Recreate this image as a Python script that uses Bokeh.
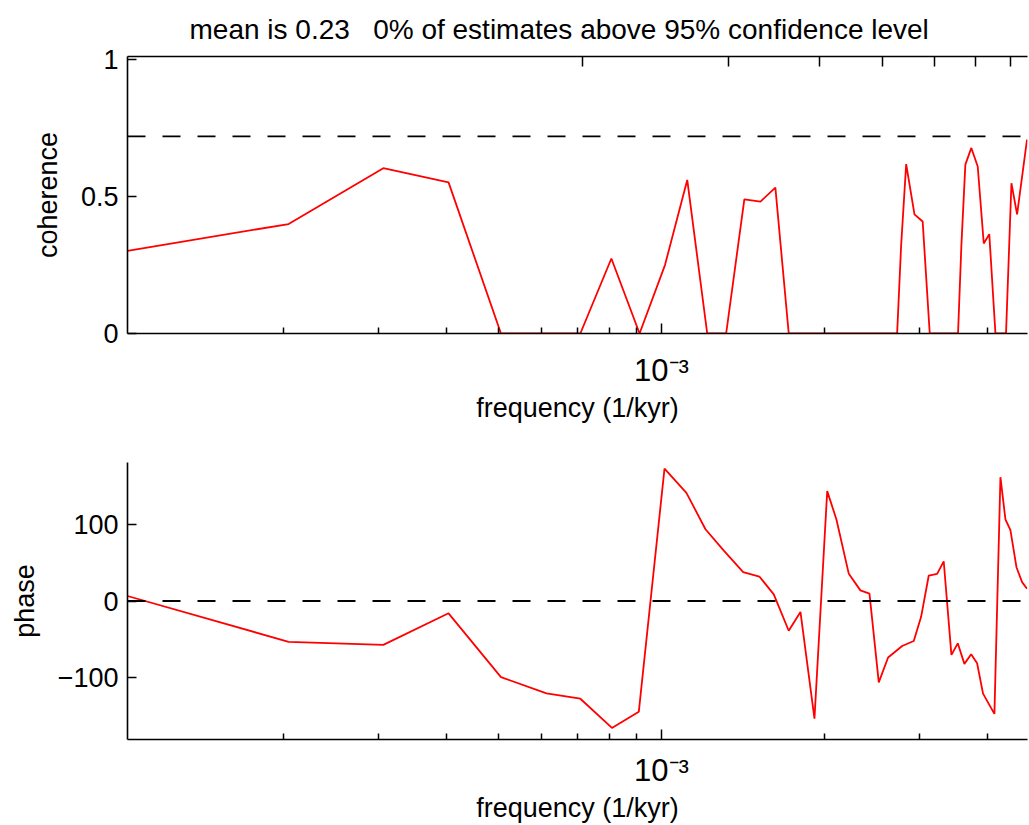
from bokeh.plotting import figure
from bokeh.layouts import column
from bokeh.models import Range1d, FixedTicker, LogAxis, Span
from bokeh.embed import file_html
from bokeh.resources import INLINE

# ---- data -------------------------------------------------------------
# non-breaking spaces keep the wide gap in the title
TITLE = "mean is 0.23\u00a0\u00a0\u00a00% of estimates above 95% confidence level"

# coherence estimate vs frequency (1/kyr)
coh_freq = [1.03e-4, 2.045e-4, 3.06e-4, 4.04e-4, 5.05e-4, 7.08e-4, 8.08e-4,
            9.11e-4, 1.015e-3, 1.116e-3, 1.215e-3, 1.317e-3, 1.423e-3,
            1.524e-3, 1.624e-3, 1.719e-3, 2.727e-3, 2.773e-3, 2.834e-3,
            2.936e-3, 3.04e-3, 3.133e-3, 3.534e-3, 3.585e-3, 3.646e-3,
            3.74e-3, 3.843e-3, 3.943e-3, 4.037e-3, 4.144e-3, 4.335e-3,
            4.436e-3, 4.544e-3, 4.74e-3]
coh_vals = [0.302, 0.40, 0.604, 0.552, 0.0, 0.0, 0.274,
            0.0, 0.25, 0.561, 0.0, 0.0, 0.49,
            0.482, 0.533, 0.0, 0.0, 0.317, 0.619,
            0.435, 0.409, 0.0, 0.0, 0.323, 0.617,
            0.678, 0.61, 0.329, 0.363, 0.0, 0.0,
            0.549, 0.435, 0.708]

# phase estimate (degrees) vs frequency (1/kyr)
ph_freq = [1.03e-4, 2.045e-4, 3.06e-4, 4.04e-4, 5.05e-4, 6.13e-4, 7.08e-4,
           8.1e-4, 9.08e-4, 1.013e-3, 1.112e-3, 1.206e-3, 1.304e-3,
           1.416e-3, 1.517e-3, 1.613e-3, 1.719e-3, 1.807e-3, 1.918e-3,
           2.025e-3, 2.106e-3, 2.22e-3, 2.332e-3, 2.424e-3, 2.522e-3,
           2.624e-3, 2.786e-3, 2.927e-3, 3.02e-3, 3.12e-3, 3.233e-3,
           3.325e-3, 3.436e-3, 3.53e-3, 3.631e-3, 3.737e-3, 3.833e-3,
           3.931e-3, 4.126e-3, 4.233e-3, 4.324e-3, 4.417e-3, 4.532e-3,
           4.642e-3, 4.74e-3]
ph_vals = [6.5, -53, -57, -16, -99, -120, -127,
           -165, -144, 172, 140.6, 93.3, 65.4,
           37.4, 31.8, 8.6, -38.7, -14.2, -153,
           142.8, 106, 35.3, 13.8, 9.5, -105.8,
           -73.5, -58.5, -52, -20.6, 33.1, 35.3,
           51.6, -70, -55, -81.7, -69.2, -80.9,
           -120.4, -146.7, 160.9, 106.2, 92, 43.9,
           24.5, 15.9]

COH_LEVEL = 0.72      # 95% confidence level for coherence
PHASE_REF = 0.0       # zero-phase reference

# axis limits and ticks
F_MIN, F_MAX = 1.03e-4, 4.75e-3
freq_major = [1e-3]
freq_labels = ["10\u207b\u00b3"]
freq_minor = [2e-4, 3e-4, 4e-4, 5e-4, 6e-4, 7e-4, 8e-4, 9e-4, 2e-3, 3e-3, 4e-3]
top_ticks = [7.15e-4, 1.33e-3, 1.96e-3, 2.56e-3, 3.2e-3, 3.8e-3, 4.42e-3]
coh_ticks = [0, 0.5, 1]
coh_tick_labels = ["0", "0.5", "1"]
ph_ticks = [-100, 0, 100]
ph_tick_labels = ["\u2212100", "0", "100"]

# ---- styling ----------------------------------------------------------
FONT = "Liberation Sans"
FS = "27px"
RED = "#ff0000"


def style_axes(p, y_ticks, y_labels, y_title, x_standoff):
    p.outline_line_color = None
    p.grid.visible = False
    p.background_fill_color = "white"
    p.border_fill_color = "white"

    xa = p.xaxis[0]
    xa.ticker = FixedTicker(ticks=freq_major, minor_ticks=freq_minor)
    xa.major_label_overrides = dict(zip(freq_major, freq_labels))
    xa.axis_label = "frequency (1/kyr)"
    ya = p.yaxis[0]
    ya.ticker = FixedTicker(ticks=y_ticks, minor_ticks=[])
    ya.major_label_overrides = dict(zip(y_ticks, y_labels))
    ya.axis_label = y_title

    for ax in (xa, ya):
        ax.axis_line_color = "black"
        ax.axis_line_width = 1.6
        ax.major_tick_line_color = "black"
        ax.major_tick_line_width = 1.5
        ax.major_tick_out = 0
        ax.minor_tick_out = 0
        ax.minor_tick_line_color = "black"
        ax.minor_tick_line_width = 1.5
        ax.major_label_text_font = FONT
        ax.major_label_text_font_size = FS
        ax.major_label_text_color = "black"
        ax.axis_label_text_font = FONT
        ax.axis_label_text_font_size = FS
        ax.axis_label_text_font_style = "normal"
        ax.axis_label_text_color = "black"

    xa.major_label_text_font_size = "31px"
    xa.major_tick_in = 10
    xa.minor_tick_in = 6
    xa.major_label_standoff = x_standoff
    xa.axis_label_standoff = 2
    ya.major_tick_in = 9
    ya.minor_tick_in = 0
    ya.major_label_standoff = 9
    ya.axis_label_standoff = 15


# ---- coherence panel --------------------------------------------------
p1 = figure(width=1029, height=440, x_axis_type="log",
            x_range=Range1d(F_MIN, F_MAX), y_range=Range1d(0, 1.012),
            output_backend="svg", toolbar_location=None,
            min_border_left=127, min_border_right=2,
            min_border_top=56, min_border_bottom=107, title=TITLE)
style_axes(p1, coh_ticks, coh_tick_labels, "coherence", 19)
p1.title.text_font = FONT
p1.title.text_font_size = "28px"
p1.title.text_font_style = "normal"
p1.title.text_color = "black"
p1.title.text_line_height = 1.0
p1.title.align = "left"
p1.title.vertical_align = "top"
p1.title.offset = 62
p1.title.standoff = 20

# tick marks along the top edge (no labels)
top_axis = LogAxis(ticker=FixedTicker(ticks=top_ticks, minor_ticks=[]),
                   major_label_overrides={t: "" for t in top_ticks},
                   axis_line_color="black", axis_line_width=1.6,
                   major_tick_in=10, major_tick_out=0,
                   major_tick_line_width=1.5,
                   minor_tick_line_color=None, major_label_standoff=0)
p1.add_layout(top_axis, "above")

p1.add_layout(Span(location=COH_LEVEL, dimension="width", line_color="black",
                   line_width=1.8, line_dash="18 17"))
p1.line(coh_freq, coh_vals, line_color=RED, line_width=1.8)

# ---- phase panel ------------------------------------------------------
p2 = figure(width=1029, height=385, x_axis_type="log",
            x_range=Range1d(F_MIN, F_MAX), y_range=Range1d(-180, 180),
            output_backend="svg", toolbar_location=None,
            min_border_left=127, min_border_right=2,
            min_border_top=22, min_border_bottom=86)
style_axes(p2, ph_ticks, ph_tick_labels, "phase", 13)
p2.add_layout(Span(location=PHASE_REF, dimension="width", line_color="black",
                   line_width=1.8, line_dash="18 17"))
p2.line(ph_freq, ph_vals, line_color=RED, line_width=1.8)

layout = column(p1, p2, spacing=0)
open("out.html", "w").write(file_html(layout, INLINE))
